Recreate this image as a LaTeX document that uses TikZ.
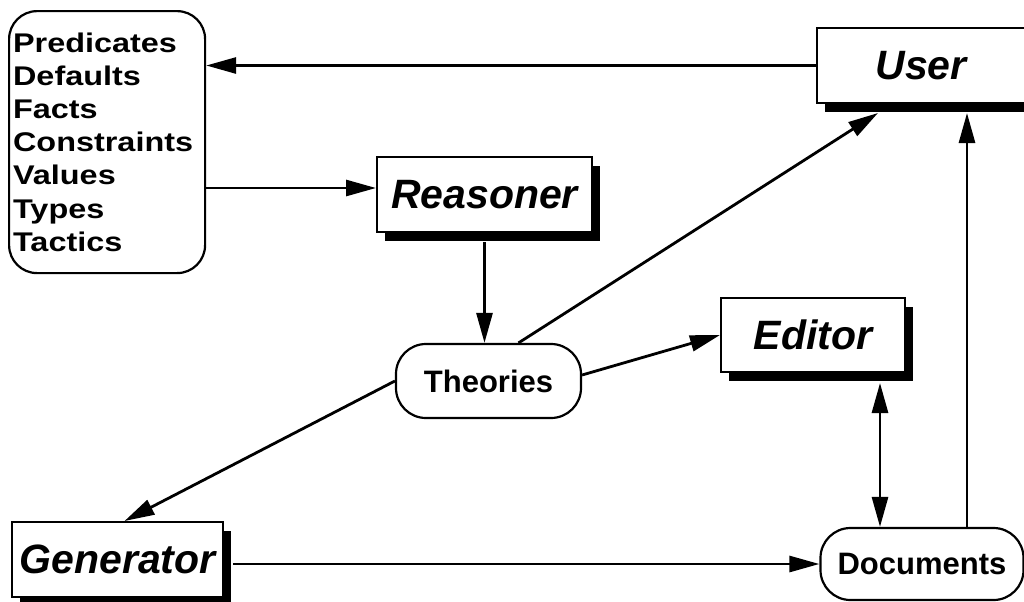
\documentclass[tikz,border=0pt]{standalone}
\usepackage{fontspec}
\setmainfont{Liberation Sans}
\newfontfamily\listfont[FakeStretch=1.2]{Liberation Sans}
\usepackage{tikz}
\usetikzlibrary{arrows.meta,positioning,shadows,calc}

\begin{document}
\begin{tikzpicture}[
    x=0.5pt, y=-0.5pt,
    modbox/.style={rectangle, draw, line width=1pt, fill=white, minimum height=37.5pt,
        drop shadow={shadow xshift=4pt, shadow yshift=-4.5pt, fill=black, opacity=1},
        font=\fontsize{20.5}{24}\selectfont\bfseries\itshape},
    store/.style={rectangle, draw, line width=1.1pt, rounded corners=15pt, fill=white, minimum height=37pt,
        font=\fontsize{15.5}{18}\selectfont\bfseries},
    arr/.style={line width=1.4pt, -{Triangle[length=15pt,width=8pt]}},
    arrboth/.style={line width=1.4pt, {Triangle[length=15pt,width=8pt]}-{Triangle[length=15pt,width=8pt]}}
]
    \useasboundingbox (0,0) rectangle (1024,601);

    \node[store, anchor=north west, minimum width=98pt, minimum height=131pt, rounded corners=14pt,
        align=left, text width=94pt, inner xsep=2pt,
        font=\listfont\fontsize{13.5}{16.6}\selectfont\bfseries] (list) at (8,10)
        {Predicates\\Defaults\\Facts\\Constraints\\Values\\Types\\Tactics};

    \node[modbox, minimum width=104pt] (user) at (921,65.5) {User};
    \node[modbox, minimum width=107.5pt] (reasoner) at (484.5,194.5) {Reasoner};
    \node[modbox, minimum width=92pt, minimum height=37pt] (editor) at (813,335) {Editor};
    \node[modbox, minimum width=105.5pt] (generator) at (117.5,559.5) {Generator};

    \node[store, minimum width=92.5pt] (theories) at (488.5,381) {Theories};
    \node[store, minimum width=101.5pt, minimum height=36pt] (documents) at (922,564) {Documents};

    % connections
    \draw[arr] (user.west) -- (list.east |- user.west);
    \draw[arr] (list.east |- 0,188) -- (reasoner.west |- 0,188);
    \draw[arr] ([yshift=-4.5pt]reasoner.south) -- (reasoner.south |- theories.north);
    \draw[arr] ([xshift=15pt]theories.north) -- ([xshift=-21.5pt,yshift=-4.5pt]user.south);
    \draw[arr] ([yshift=3pt]theories.east) -- (editor.west);
    \draw[arr] (theories.west) -- ([xshift=3.5pt]generator.north);
    \draw[arrboth] ([xshift=33.5pt,yshift=-5pt]editor.south) -- ([xshift=-21pt]documents.north);
    \draw[arr] ([xshift=22.5pt]documents.north) -- ([xshift=23pt,yshift=-4.5pt]user.south);
    \draw[arr] ([xshift=4.5pt]generator.east |- documents.west) -- (documents.west);
\end{tikzpicture}
\end{document}
